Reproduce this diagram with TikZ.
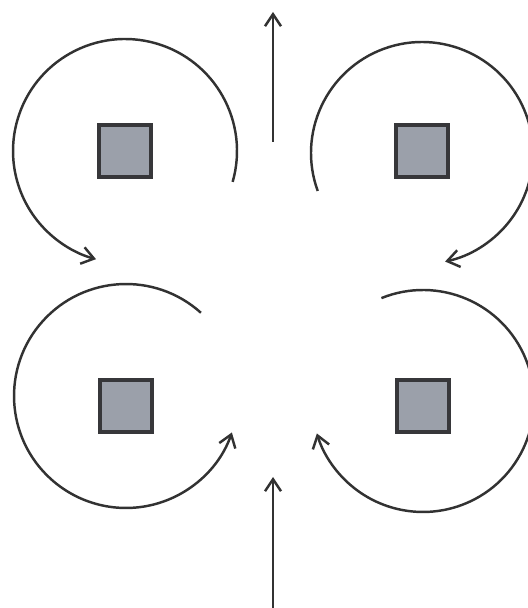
\documentclass[tikz,border=0pt]{standalone}
\usepackage{tikz}
\usetikzlibrary{arrows.meta}
\definecolor{linegray}{RGB}{50, 50, 50}
\definecolor{blockedge}{RGB}{55, 55, 58}
\definecolor{blockfill}{RGB}{155, 160, 170}

\begin{document}
\begin{tikzpicture}[
    x=0.02cm, y=0.02cm,
    block/.style={draw=blockedge, line width=2pt, fill=blockfill, minimum size=1.05cm, inner sep=0pt},
    swirl/.style={draw=linegray, line width=1.4pt, -{Straight Barb[length=2.4mm, width=3.4mm, line width=1.4pt]}},
    flow/.style={draw=linegray, line width=1.4pt, -{Straight Barb[length=2.4mm, width=3.2mm, line width=1.4pt]}}
]
    \useasboundingbox (0,0) rectangle (527,608);

    % Blocks
    \node[block] (tl) at (125, 457) {};
    \node[block] (tr) at (422, 457) {};
    \node[block] (bl) at (126, 202) {};
    \node[block] (br) at (423, 202) {};

    % Centres of the swirls
    \coordinate (ctl) at (125, 457);
    \coordinate (ctr) at (422, 455);
    \coordinate (cbl) at (126, 212);
    \coordinate (cbr) at (423, 207);

    % Swirls
    \draw[swirl] ([shift={(-16:2.24cm)}]ctl) arc[start angle=-16, end angle=255, radius=2.24cm];
    \draw[swirl] ([shift={(200:2.22cm)}]ctr) arc[start angle=200, end angle=-78, radius=2.22cm];
    \draw[swirl] ([shift={(48:2.24cm)}]cbl) arc[start angle=48, end angle=341, radius=2.24cm];
    \draw[swirl] ([shift={(112:2.22cm)}]cbr) arc[start angle=112, end angle=-163, radius=2.22cm];

    % Through flow
    \coordinate (inflow) at (273, 0);
    \coordinate (inflowtip) at (273, 131);
    \coordinate (outflow) at (273, 466);
    \coordinate (outflowtip) at (273, 596);
    \draw[flow] (inflow) -- (inflowtip);
    \draw[flow] (outflow) -- (outflowtip);
\end{tikzpicture}
\end{document}
